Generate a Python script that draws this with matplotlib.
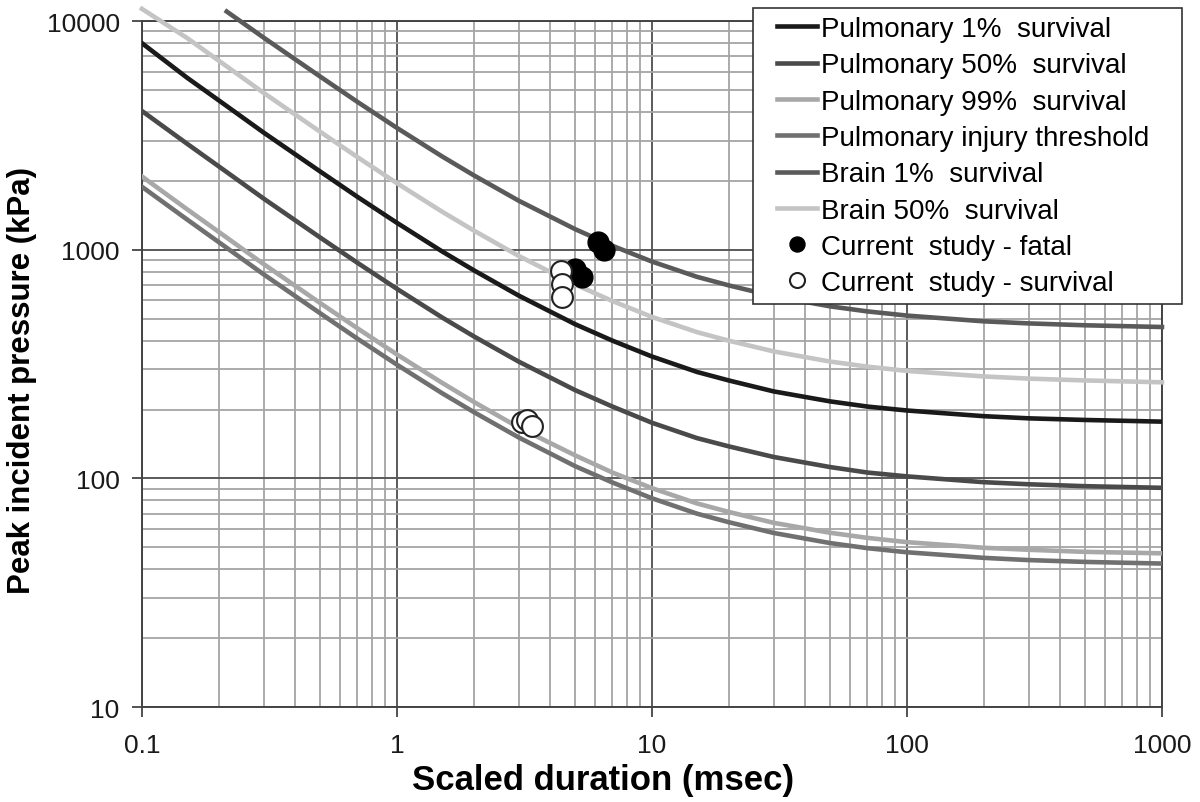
import numpy as np
import matplotlib.pyplot as plt
from matplotlib.lines import Line2D
from matplotlib.legend_handler import HandlerLine2D
from matplotlib.ticker import LogLocator, FixedLocator, NullFormatter

plt.rcParams['font.family'] = ['Liberation Sans', 'DejaVu Sans']

# scaled duration (msec) where the curves are sampled
t = [0.1, 0.15, 0.2, 0.3, 0.5, 0.7, 1, 1.5, 2, 3, 5, 7, 10, 15, 20, 30, 50, 70,
     100, 200, 300, 500, 1000]

# peak incident pressure (kPa) for each curve
pulm_1 = [8000, 5657, 4498, 3252, 2197, 1702, 1310, 984, 813, 630, 472, 400, 341,
          292, 268, 240, 217, 206, 198, 187, 183, 180, 177]
pulm_50 = [4040, 2910, 2314, 1673, 1130, 876, 674, 506, 418, 324, 243, 206, 175,
           150, 138, 124, 112, 106, 102, 96.2, 94.2, 92.4, 90.9]
pulm_99 = [2090, 1504, 1196, 865, 584, 453, 348, 262, 216, 167, 126, 106, 90.6,
           77.7, 71.3, 63.9, 57.8, 54.9, 52.6, 49.7, 48.7, 47.7, 47.0]
pulm_thr = [1884, 1357, 1079, 780, 527, 408, 314, 236, 195, 151, 113, 95.9, 81.8,
            70.1, 64.3, 57.7, 52.1, 49.5, 47.5, 44.9, 43.9, 43.1, 42.4]
brain_50 = [11300, 8437, 6708, 4850, 3277, 2539, 1953, 1468, 1213, 939, 704, 596,
            508, 436, 400, 359, 324, 308, 295, 279, 273, 268, 263]

# brain 1% curve starts a little later
t_b1 = [0.215, 0.3, 0.5, 0.7, 1, 1.5, 2, 3, 5, 7, 10, 15, 20, 30, 50, 70, 100, 200,
        300, 500, 1000]
brain_1 = [11000, 8460, 5715, 4428, 3407, 2561, 2115, 1638, 1229, 1040, 887, 761,
           698, 626, 565, 537, 515, 486, 476, 467, 459]

# study cases
fatal_x = [5.0, 5.3, 6.15, 6.5]
fatal_y = [823, 760, 1080, 1000]
surv_x = [4.4, 4.45, 4.42, 3.1, 3.25, 3.4]
surv_y = [807, 708, 621, 176, 180, 170]

fig = plt.figure(figsize=(12, 8.03), dpi=100)
ax = fig.add_axes([0.1183, 0.1183, 0.85, 0.8543])

ax.set_xscale('log')
ax.set_yscale('log')
ax.set_xlim(0.1, 1000)
ax.set_ylim(10, 10000)

lw = 3.3
ax.plot(t, pulm_1, color='#1a1a1a', lw=lw, label='Pulmonary 1%  survival', zorder=3)
ax.plot(t, pulm_50, color='#4a4a4a', lw=lw, label='Pulmonary 50%  survival', zorder=3)
ax.plot(t, pulm_99, color='#a8a8a8', lw=lw, label='Pulmonary 99%  survival', zorder=3)
ax.plot(t, pulm_thr, color='#707070', lw=lw, label='Pulmonary injury threshold', zorder=3)
ax.plot(t_b1, brain_1, color='#5a5a5a', lw=lw, label='Brain 1%  survival', zorder=3,
        clip_on=False)
ax.plot(t, brain_50, color='#c4c4c4', lw=lw, label='Brain 50%  survival', zorder=3,
        clip_on=False)

ax.plot(fatal_x, fatal_y, 'o', color='black', ms=15, mec='black',
        label='Current  study - fatal', zorder=4)
ax.plot(surv_x, surv_y, 'o', color='white', ms=15, mec='#222222', mew=1.5,
        label='Current  study - survival', zorder=5)

# log grid, darker on the decades
ax.xaxis.set_major_locator(FixedLocator([0.1, 1, 10, 100, 1000]))
ax.yaxis.set_major_locator(FixedLocator([10, 100, 1000, 10000]))
ax.xaxis.set_minor_locator(LogLocator(base=10, subs=np.arange(2, 10)))
ax.yaxis.set_minor_locator(LogLocator(base=10, subs=np.arange(2, 10)))
ax.xaxis.set_minor_formatter(NullFormatter())
ax.yaxis.set_minor_formatter(NullFormatter())
ax.set_xticklabels(['0.1', '1', '10', '100', '1000'])
ax.set_yticklabels(['10', '100', '1000', '10000'])
ax.grid(which='major', color='#5a5a5a', lw=1.4, zorder=1)
ax.grid(which='minor', color='#a5a5a5', lw=1.3, zorder=1)
ax.set_axisbelow(True)

ax.tick_params(which='major', direction='out', length=7, width=1.3, color='#444444',
               labelsize=19, labelcolor='#1a1a1a')
ax.tick_params(axis='x', which='major', pad=12)
ax.tick_params(axis='y', which='major', pad=9)
ax.tick_params(which='minor', length=0)
for s in ax.spines.values():
    s.set_color('#444444')
    s.set_linewidth(1.4)

ax.set_xlabel('Scaled duration (msec)', fontsize=25, fontweight='bold')
ax.set_ylabel('Peak incident pressure (kPa)', fontsize=22.5, fontweight='bold')
ax.xaxis.set_label_coords(0.452, -0.1064)
ax.xaxis.label.set_verticalalignment('center')
ax.yaxis.set_label_coords(-0.1176, 0.478)
ax.yaxis.label.set_verticalalignment('center')

# legend box stretched to a fixed width in figure coordinates
leg = ax.legend(loc='upper left', bbox_to_anchor=(0.6275, 0.5, 0.3575, 0.489),
                bbox_transform=fig.transFigure, mode='expand', fontsize=20,
                frameon=True, fancybox=False, edgecolor='#333333', framealpha=1,
                handlelength=2.0, handletextpad=0.15, labelspacing=0.37,
                borderpad=0.3, borderaxespad=0, markerscale=0.72,
                handler_map={Line2D: HandlerLine2D(xpad=0.55)})
leg.get_frame().set_linewidth(1.2)
leg.set_zorder(10)

fig.savefig('out.png', dpi=100)
